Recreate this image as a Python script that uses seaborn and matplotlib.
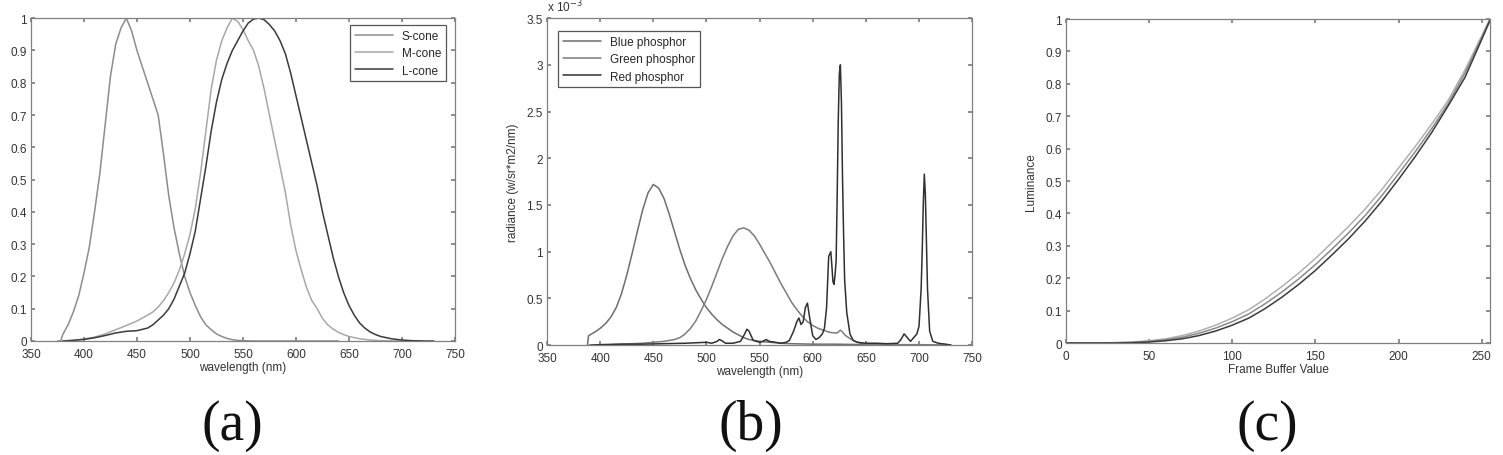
import numpy as np
import pandas as pd
import matplotlib
matplotlib.use('Agg')
import matplotlib.pyplot as plt
from matplotlib.ticker import FuncFormatter
import seaborn as sns

# (a) cone sensitivities
s_wl = [375, 378, 380, 385, 390, 395, 400, 405, 410, 415, 420, 425, 430, 435, 440, 445,
        450, 455, 460, 465, 470, 475, 480, 485, 490, 495, 500, 505, 510, 515, 520, 525,
        530, 535, 540, 545, 550, 560, 580, 600, 620, 640]
s_cone = [0.0, 0.0, 0.02, 0.05, 0.09, 0.14, 0.21, 0.29, 0.40, 0.52, 0.67, 0.82, 0.92, 0.97,
          1.00, 0.96, 0.90, 0.85, 0.80, 0.75, 0.70, 0.58, 0.45, 0.35, 0.27, 0.20, 0.15, 0.11,
          0.075, 0.05, 0.035, 0.022, 0.014, 0.008, 0.004, 0.002, 0.001, 0.0, 0.0, 0.0, 0.0, 0.0]

m_wl = [380, 390, 400, 410, 420, 430, 440, 450, 460, 465, 470, 475, 480, 485, 490, 495,
        500, 505, 510, 515, 520, 525, 530, 535, 540, 545, 550, 555, 560, 565, 570, 575,
        580, 585, 590, 595, 600, 605, 610, 615, 620, 625, 630, 635, 640, 645, 650, 660,
        670, 680, 700, 720]
m_cone = [0.0, 0.002, 0.006, 0.012, 0.022, 0.035, 0.048, 0.062, 0.08, 0.09, 0.105, 0.125,
          0.15, 0.18, 0.22, 0.27, 0.33, 0.41, 0.52, 0.65, 0.78, 0.87, 0.93, 0.97, 1.0, 0.99,
          0.965, 0.93, 0.90, 0.85, 0.78, 0.70, 0.62, 0.54, 0.46, 0.36, 0.28, 0.22, 0.165,
          0.125, 0.10, 0.07, 0.05, 0.037, 0.027, 0.02, 0.014, 0.007, 0.003, 0.001, 0.0, 0.0]

l_wl = [380, 390, 400, 410, 420, 430, 440, 450, 460, 465, 470, 475, 480, 485, 490, 495,
        500, 505, 510, 515, 520, 525, 530, 535, 540, 545, 550, 555, 560, 565, 570, 575,
        580, 585, 590, 595, 600, 605, 610, 615, 620, 625, 630, 635, 640, 645, 650, 655,
        660, 665, 670, 675, 680, 690, 700, 710, 720, 730]
l_cone = [0.0, 0.002, 0.005, 0.01, 0.017, 0.025, 0.03, 0.032, 0.04, 0.05, 0.065, 0.08,
          0.10, 0.13, 0.17, 0.21, 0.27, 0.34, 0.44, 0.54, 0.65, 0.74, 0.81, 0.86, 0.90, 0.93,
          0.96, 0.985, 0.997, 1.0, 0.995, 0.98, 0.96, 0.93, 0.89, 0.83, 0.76, 0.69, 0.62,
          0.55, 0.48, 0.40, 0.33, 0.26, 0.20, 0.15, 0.11, 0.08, 0.056, 0.04, 0.028, 0.02,
          0.014, 0.007, 0.003, 0.001, 0.0, 0.0]

# (b) phosphor spectra, units of 1e-3
blue_wl = [388, 389, 395, 400, 405, 410, 415, 420, 425, 430, 435, 440, 445, 450, 455, 460,
           465, 470, 475, 480, 485, 490, 495, 500, 505, 510, 515, 520, 525, 530, 535, 540,
           545, 550, 560, 570, 580, 600, 620, 650, 700, 730]
blue_ph = [0.0, 0.10, 0.14, 0.18, 0.23, 0.30, 0.40, 0.55, 0.75, 0.98, 1.22, 1.45, 1.63,
           1.72, 1.68, 1.57, 1.40, 1.21, 1.02, 0.85, 0.71, 0.59, 0.49, 0.40, 0.33, 0.27,
           0.22, 0.18, 0.14, 0.11, 0.08, 0.06, 0.05, 0.04, 0.03, 0.02, 0.015, 0.01, 0.01,
           0.005, 0.0, 0.0]

green_wl = [400, 420, 440, 450, 460, 470, 475, 480, 485, 490, 495, 500, 505, 510, 515, 520,
            525, 530, 535, 540, 545, 550, 555, 560, 565, 570, 575, 580, 585, 590, 595, 600,
            605, 610, 615, 620, 623, 626, 628, 630, 635, 640, 645, 650, 660, 680, 700, 730]
green_ph = [0.0, 0.01, 0.02, 0.03, 0.04, 0.06, 0.08, 0.12, 0.18, 0.26, 0.37, 0.49, 0.63,
            0.78, 0.93, 1.06, 1.17, 1.24, 1.255, 1.23, 1.17, 1.08, 0.98, 0.88, 0.77, 0.66,
            0.56, 0.46, 0.38, 0.31, 0.25, 0.21, 0.18, 0.16, 0.14, 0.13, 0.13, 0.16, 0.14,
            0.11, 0.07, 0.04, 0.02, 0.01, 0.01, 0.005, 0.005, 0.0]

red_wl = [390, 400, 420, 440, 460, 480, 500, 505, 510, 512, 514, 518, 525, 532, 536, 538,
          540, 544, 550, 553, 556, 559, 565, 570, 575, 578, 582, 585, 587, 589, 591, 593,
          595, 597, 600, 603, 606, 609, 611, 613, 615, 617, 618, 619, 620, 621, 622, 623,
          624, 625, 626, 627, 628, 629, 630, 632, 635, 638, 642, 650, 660, 670, 680, 683,
          686, 689, 692, 695, 698, 700, 702, 703, 704, 705, 706, 707, 708, 710, 713, 718,
          725, 730]
red_ph = [0.0, 0.005, 0.01, 0.01, 0.015, 0.02, 0.03, 0.02, 0.04, 0.06, 0.05, 0.02, 0.02,
          0.04, 0.12, 0.17, 0.15, 0.05, 0.03, 0.04, 0.06, 0.04, 0.03, 0.02, 0.03, 0.05,
          0.15, 0.25, 0.29, 0.22, 0.25, 0.40, 0.45, 0.30, 0.10, 0.06, 0.08, 0.12, 0.18,
          0.40, 0.95, 1.0, 0.85, 0.68, 0.65, 0.75, 0.90, 1.6, 2.4, 2.9, 3.0, 2.6, 1.8, 1.2,
          0.7, 0.35, 0.12, 0.05, 0.03, 0.02, 0.02, 0.015, 0.02, 0.06, 0.12, 0.08, 0.04,
          0.08, 0.12, 0.2, 0.6, 1.0, 1.5, 1.83, 1.6, 1.1, 0.6, 0.15, 0.04, 0.02, 0.01, 0.0]

# (c) luminance vs frame buffer value, three guns
fb = [0, 10, 20, 30, 40, 50, 60, 70, 80, 90, 100, 110, 120, 130, 140, 150, 160, 170, 180,
      190, 200, 210, 220, 230, 240, 250, 255]
lum_top = [0.0, 0.0, 0.0, 0.001, 0.003, 0.007, 0.013, 0.023, 0.037, 0.055, 0.077, 0.103,
           0.137, 0.175, 0.216, 0.261, 0.310, 0.360, 0.414, 0.474, 0.540, 0.606, 0.676,
           0.750, 0.843, 0.947, 1.0]
lum_mid = [0.0, 0.0, 0.0, 0.001, 0.002, 0.005, 0.010, 0.018, 0.030, 0.046, 0.066, 0.090,
           0.122, 0.158, 0.198, 0.242, 0.290, 0.340, 0.394, 0.455, 0.522, 0.590, 0.662,
           0.740, 0.833, 0.942, 1.0]
lum_bot = [0.0, 0.0, 0.0, 0.0, 0.001, 0.003, 0.007, 0.013, 0.023, 0.037, 0.055, 0.077,
           0.107, 0.142, 0.181, 0.224, 0.272, 0.322, 0.377, 0.438, 0.505, 0.575, 0.650,
           0.733, 0.820, 0.936, 0.995]

sns.set_theme(style='white')
plt.rcParams['font.family'] = ['Liberation Sans', 'DejaVu Sans']
plt.rcParams.update({
    'axes.edgecolor': '#808080',
    'axes.linewidth': 0.9,
    'xtick.direction': 'in',
    'ytick.direction': 'in',
    'xtick.top': True,
    'ytick.right': True,
    'xtick.bottom': True,
    'ytick.left': True,
    'xtick.major.size': 3,
    'ytick.major.size': 3,
    'xtick.color': '#808080',
    'ytick.color': '#808080',
    'xtick.labelcolor': '#333333',
    'ytick.labelcolor': '#333333',
    'xtick.labelsize': 8.5,
    'ytick.labelsize': 8.5,
    'xtick.major.pad': 5,
    'ytick.major.pad': 3,
    'axes.labelsize': 8.5,
    'axes.labelcolor': '#333333',
})

fig = plt.figure(figsize=(15.03, 4.56), dpi=100)
ax_a = fig.add_axes([0.0206, 0.250, 0.2821, 0.708])
ax_b = fig.add_axes([0.3640, 0.241, 0.2828, 0.717])
ax_c = fig.add_axes([0.7093, 0.2456, 0.2820, 0.7105])

fmt = FuncFormatter(lambda v, p: '%g' % round(v, 3))
lw = 1.1

# panel (a)
sns.lineplot(x=s_wl, y=s_cone, ax=ax_a, color='#8c8c8c', lw=lw, label='S-cone')
sns.lineplot(x=m_wl, y=m_cone, ax=ax_a, color='#a8a8a8', lw=lw, label='M-cone')
sns.lineplot(x=l_wl, y=l_cone, ax=ax_a, color='#3a3a3a', lw=lw, label='L-cone')
ax_a.set_xlim(350, 750)
ax_a.set_ylim(0, 1)
ax_a.set_xticks(np.arange(350, 751, 50))
ax_a.set_yticks(np.arange(0, 1.01, 0.1))
ax_a.set_xlabel('wavelength (nm)', labelpad=1)
leg = ax_a.legend(loc='upper right', bbox_to_anchor=(0.979, 0.978), borderaxespad=0,
                  fontsize=8.5, handlelength=3.2, labelspacing=0.45, fancybox=False,
                  framealpha=1, edgecolor='#555555', borderpad=0.4)
leg.get_frame().set_linewidth(0.9)

# panel (b)
sns.lineplot(x=blue_wl, y=blue_ph, ax=ax_b, color='#6e6e6e', lw=lw, label='Blue phosphor')
sns.lineplot(x=green_wl, y=green_ph, ax=ax_b, color='#7c7c7c', lw=lw, label='Green phosphor')
sns.lineplot(x=red_wl, y=red_ph, ax=ax_b, color='#303030', lw=lw, label='Red phosphor')
ax_b.set_xlim(350, 750)
ax_b.set_ylim(0, 3.5)
ax_b.set_xticks(np.arange(350, 751, 50))
ax_b.set_yticks(np.arange(0, 3.51, 0.5))
ax_b.set_xlabel('wavelength (nm)', labelpad=1)
ax_b.set_ylabel('radiance (w/sr*m2/nm)', labelpad=5)
ax_b.text(0.0, 1.012, r'x 10$^{-3}$', transform=ax_b.transAxes, fontsize=8.5,
          color='#333333', ha='left', va='bottom')
leg = ax_b.legend(loc='upper left', bbox_to_anchor=(0.026, 0.96), borderaxespad=0,
                  fontsize=8.5, handlelength=3.2, labelspacing=0.45, fancybox=False,
                  framealpha=1, edgecolor='#555555', borderpad=0.4)
leg.get_frame().set_linewidth(0.9)

# panel (c)
sns.lineplot(x=fb, y=lum_top, ax=ax_c, color='#b0b0b0', lw=lw)
sns.lineplot(x=fb, y=lum_mid, ax=ax_c, color='#8a8a8a', lw=lw)
sns.lineplot(x=fb, y=lum_bot, ax=ax_c, color='#3a3a3a', lw=lw)
ax_c.set_xlim(0, 255)
ax_c.set_ylim(0, 1)
ax_c.set_xticks(np.arange(0, 251, 50))
ax_c.set_yticks(np.arange(0, 1.01, 0.1))
ax_c.set_xlabel('Frame Buffer Value', labelpad=1)
ax_c.set_ylabel('Luminance', labelpad=6)

for ax in (ax_a, ax_b, ax_c):
    ax.xaxis.set_major_formatter(fmt)
    ax.yaxis.set_major_formatter(fmt)

for x, lab in [(232, '(a)'), (751, '(b)'), (1267, '(c)')]:
    fig.text(x / 1503, 1 - 426 / 456, lab, family=['Liberation Serif', 'DejaVu Serif'],
             fontsize=40, ha='center', va='center', color='#111111')

fig.savefig('out.png', dpi=100)
